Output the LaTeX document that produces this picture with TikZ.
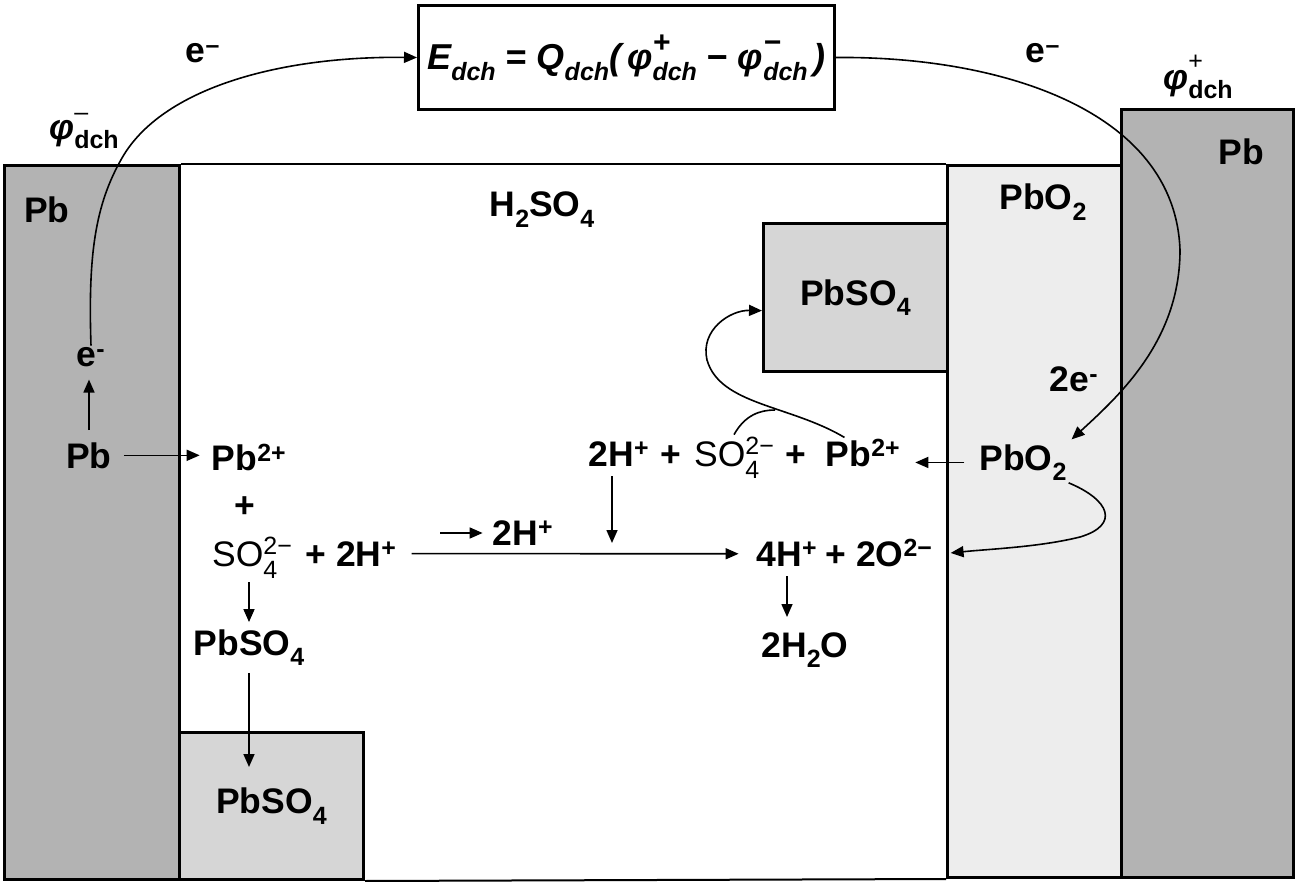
\documentclass[tikz,border=0pt]{standalone}
\usepackage{fontspec}
\usepackage{amsmath}
\setmainfont{Liberation Sans}
\usetikzlibrary{arrows.meta,positioning}

\definecolor{leadgray}{HTML}{B3B3B3}
\definecolor{oxidegray}{HTML}{EDEDED}
\definecolor{sulfgray}{HTML}{D6D6D6}

\newcommand{\chg}[2]{\rlap{\raisebox{-0.34em}{\fontsize{25}{25}\selectfont #2}}\raisebox{0.33em}{\fontsize{25}{25}\selectfont #1}}
\newcommand{\pot}[2]{\rlap{\raisebox{0.55em}{\fontsize{25}{25}\selectfont\mdseries #1}}\raisebox{-0.25em}{\fontsize{25}{25}\selectfont #2}}
\newcommand{\sub}[1]{\raisebox{-0.3em}{\fontsize{25}{25}\selectfont #1}}
\newcommand{\eqpot}[2]{\rlap{\raisebox{0.48em}{\fontsize{30}{30}\selectfont #1}}\raisebox{-0.3em}{\fontsize{25}{25}\selectfont #2}}

\begin{document}
\begin{tikzpicture}[
  x=1pt, y=-1pt,
  lbl/.style={font=\fontsize{35.5}{40}\selectfont\bfseries, inner sep=2pt},
  base lbl/.style={lbl, anchor=base},
  plate/.style={draw, line width=3pt, anchor=north west, inner sep=0pt,
    font=\fontsize{35.5}{40}\selectfont\bfseries},
  arr/.style={-{Triangle[length=13pt,width=11pt]}, line width=1.6pt},
  rxn/.style={arr, shorten <=10pt, shorten >=10pt},
  wire/.style={line width=1.6pt}
]
\useasboundingbox (0,0) rectangle (1296,882);

\node[plate, fill=leadgray, minimum width=175pt, minimum height=714pt] (leadL) at (3,164) {};
\node[plate, fill=sulfgray, minimum width=184pt, minimum height=147pt] (sulfL) at (178,731) {PbSO\sub{4}};
\node[plate, fill=oxidegray, minimum width=174pt, minimum height=712pt] (oxide) at (946,164) {};
\node[plate, fill=leadgray, minimum width=172pt, minimum height=768pt] (leadR) at (1120,108) {};
\node[plate, fill=sulfgray, minimum width=184pt, minimum height=148pt] (sulfR) at (762,222) {PbSO\sub{4}};
\node[plate, fill=white, minimum width=416pt, minimum height=104pt, font=\fontsize{36}{40}\selectfont\bfseries\itshape] (energy) at (417,4)
  {E\sub{dch}\;=\;Q\sub{dch}(\,φ\eqpot{+}{dch}\;−\;φ\eqpot{−}{dch}\,)};

\draw[line width=1.5pt] (leadL.north east) -- (oxide.north west);
\draw[line width=2pt] (sulfL.south east) -- (oxide.south west);

\node[lbl] (leadLlbl) at (47,210) {Pb};
\node[lbl] (leadRlbl) at (1241,152) {Pb};
\node[lbl] (oxidelbl) at (1043,202) {PbO\sub{2}};
\node[base lbl] (acid) at (542,217) {H\sub{2}SO\sub{4}};

\node[base lbl] (eTopL) at (203,63) {e\textsuperscript{–}};
\node[lbl] (phiL) at (84,131) {{\itshape φ}\pot{–}{dch}};
\node[base lbl] (eTopR) at (1043,63) {e\textsuperscript{–}};
\node[lbl] (phiR) at (1198,77) {{\itshape φ}\pot{+}{dch}};

\node[base lbl] (eAnode) at (91,367) {e\textsuperscript{-}};
\node[base lbl] (pbAnode) at (89,468) {Pb};
\node[base lbl] (pbIonL) at (249,471) {Pb\textsuperscript{2+}};
\node[lbl] (plusL) at (245,507) {+};
\node[base lbl] (so4L) at (252,566) {\mdseries SO\chg{2−}{4}};
\node[base lbl] (hL) at (351,566) {+ 2H\textsuperscript{+}};
\node[base lbl] (pbso4L) at (249,655) {PbSO\sub{4}};
\node[base lbl] (hFlow) at (523,545) {2H\textsuperscript{+}};

\node[base lbl] (hR) at (619,466) {2H\textsuperscript{+}};
\node[base lbl] (plusR1) at (671,466) {+};
\node[base lbl] (so4R) at (734,466) {\mdseries SO\chg{2−}{4}};
\node[base lbl] (plusR2) at (796,466) {+};
\node[base lbl] (pbIonR) at (863,466) {Pb\textsuperscript{2+}};
\node[base lbl] (pbo2) at (1023,470) {PbO\sub{2}};
\node[base lbl] (eCath) at (1074,392) {2e\textsuperscript{-}};
\node[base lbl] (h4) at (787,566) {4H\textsuperscript{+}};
\node[base lbl] (o2) at (879,566) {+ 2O\textsuperscript{2−}};
\node[base lbl] (water) at (805,657) {2H\sub{2}O};

\coordinate (depositL) at (249,767);
\coordinate (flowstart) at (440,533);
\coordinate (hjoin) at (612,543);
\coordinate (merge) at (775,410);

\draw[arr] (eAnode.north) .. controls (88,255) and (95,205) .. (122,158)
  .. controls (162,88) and (280,56) .. (energy.west);
\draw[arr, shorten >=4pt] (energy.east) .. controls (1000,56) and (1175,110) .. (1180,250)
  .. controls (1180,340) and (1120,395) .. (pbo2.north east);

\draw[rxn] (pbAnode.north) -- (pbAnode.north |- eAnode.south);
\draw[rxn] (pbAnode.east) -- (pbAnode.east -| pbIonL.west);
\draw[rxn, shorten <=2pt, shorten >=5pt] (so4L.south -| pbso4L) -- (pbso4L.north);
\draw[rxn, shorten <=5pt, shorten >=0pt] (pbso4L.south) -- (depositL);
\draw[rxn, shorten <=0pt, shorten >=8pt] (flowstart) -- (flowstart -| hFlow.west);
\draw[rxn, shorten <=13pt, shorten >=16pt] (hL.east) -- (h4.west);
\draw[rxn, shorten <=8pt, shorten >=0pt] (hR.south -| hjoin) -- (hjoin);
\draw[rxn, shorten <=13pt, shorten >=13pt] (pbo2.west) -- (pbo2.west -| pbIonR.east);
\draw[rxn, shorten <=8pt, shorten >=13pt] (h4.south) -- (h4.south |- water.north);

\draw[arr] (pbIonR.140) .. controls (790,405) and (720,405) .. (707,360)
  .. controls (700,330) and (730,310) .. (sulfR.188);
\draw[wire] (so4R.north) .. controls (745,415) and (760,410) .. (merge);
\draw[arr] (pbo2.south east) .. controls (1110,500) and (1120,525) .. (1080,537)
  .. controls (1040,547) and (990,549) .. ([xshift=16pt]o2.east);
\end{tikzpicture}
\end{document}
